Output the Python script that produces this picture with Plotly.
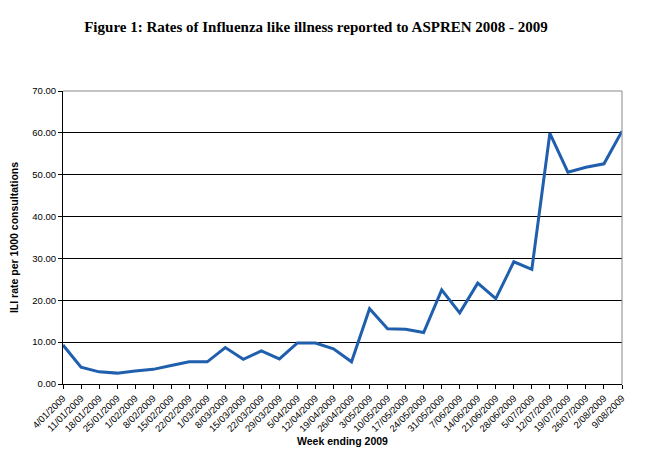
"""ILI rates reported to ASPREN, week ending 2009."""

import plotly.graph_objects as go

weeks = ['4/01/2009', '11/01/2009', '18/01/2009', '25/01/2009', '1/02/2009', '8/02/2009',
         '15/02/2009', '22/02/2009', '1/03/2009', '8/03/2009', '15/03/2009', '22/03/2009',
         '29/03/2009', '5/04/2009', '12/04/2009', '19/04/2009', '26/04/2009', '3/05/2009',
         '10/05/2009', '17/05/2009', '24/05/2009', '31/05/2009', '7/06/2009', '14/06/2009',
         '21/06/2009', '28/06/2009', '5/07/2009', '12/07/2009', '19/07/2009', '26/07/2009',
         '2/08/2009', '9/08/2009']
ili_rate = [9.3, 4.0, 2.9, 2.6, 3.1, 3.5, 4.4, 5.3, 5.3, 8.7, 5.9, 7.9, 6.0, 9.8, 9.8, 8.4,
            5.3, 18.0, 13.2, 13.1, 12.3, 22.5, 17.0, 24.1, 20.4, 29.2, 27.4, 59.9, 50.6, 51.8,
            52.6, 60.4]
y_ticks = [0, 10, 20, 30, 40, 50, 60, 70]

fig = go.Figure()
fig.add_trace(go.Scatter(x=weeks, y=ili_rate, mode='lines',
                         line=dict(color='#1f5fad', width=3)))

# page has an 8px body margin, so offsets are shifted by 8
fig.update_layout(
    width=660, height=450,
    margin=dict(l=55, r=46, t=83, b=74),
    paper_bgcolor='white', plot_bgcolor='white',
    showlegend=False,
    font=dict(family='Liberation Sans, Arial', color='black', size=9),
    title=dict(text='<b>Figure 1: Rates of Influenza like illness reported to ASPREN 2008 - 2009</b>',
               x=308 / 660, xanchor='center', y=1 - 19 / 450, yanchor='middle',
               font=dict(family='Liberation Serif, Times New Roman', size=15, color='black')),
)

fig.update_xaxes(
    type='category', range=[0, len(weeks) - 1], automargin=False,
    tickangle=-45, tickfont=dict(size=9.5),
    ticks='outside', ticklen=4, tickcolor='black',
    showline=True, linecolor='black', linewidth=1,
    showgrid=False, zeroline=False,
    title=dict(text='<b>Week ending 2009</b>', font=dict(size=10.5), standoff=4),
)
fig.update_yaxes(
    range=[0, 70], tickvals=y_ticks, tickformat='.2f', automargin=False,
    ticks='outside', ticklen=4, tickcolor='black', tickfont=dict(size=9.5),
    showline=True, linecolor='black', linewidth=1,
    showgrid=True, gridcolor='black', gridwidth=1, zeroline=False,
    title=dict(text='<b>ILI rate per 1000 consultations</b>', font=dict(size=10.5), standoff=12),
)

# grey frame on top and right, like the Excel chart
fig.add_shape(type='line', xref='paper', yref='paper', x0=0, x1=1, y0=1, y1=1,
              line=dict(color='#888888', width=1), layer='above')
fig.add_shape(type='line', xref='paper', yref='paper', x0=1, x1=1, y0=0, y1=1,
              line=dict(color='#888888', width=1), layer='above')

fig.write_html('out.html')
